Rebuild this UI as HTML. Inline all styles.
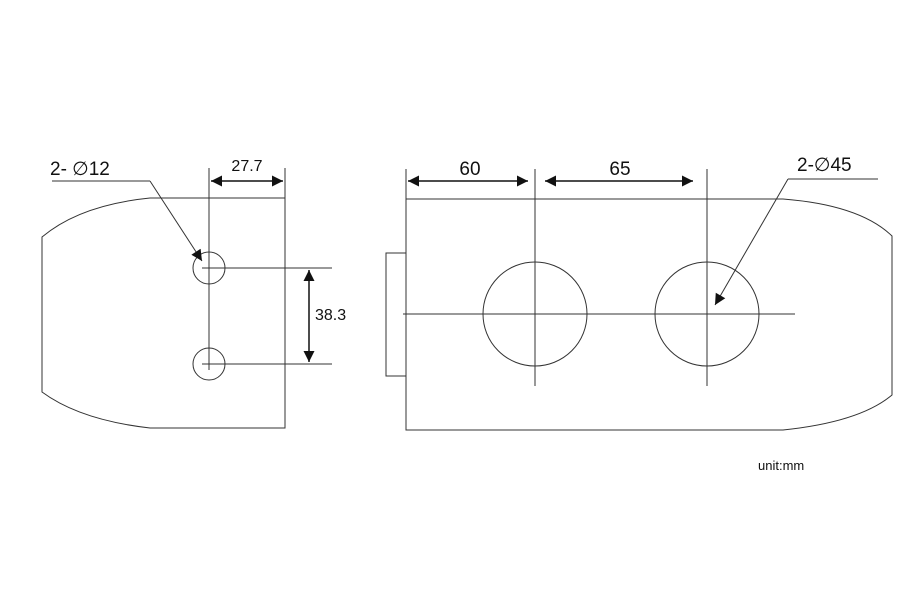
<!DOCTYPE html>
<html><head><style>html,body{margin:0;padding:0;background:#fff;}svg{display:block}</style></head>
<body>
<svg width="923" height="598" viewBox="0 0 923 598" xmlns="http://www.w3.org/2000/svg">
<defs>
<marker id="a" viewBox="0 0 10 10" refX="10" refY="5" markerWidth="14" markerHeight="11" orient="auto-start-reverse" markerUnits="userSpaceOnUse"><path d="M0,0L10,5L0,10z" fill="#111"/></marker>
</defs>
<g fill="none" stroke="#333" stroke-width="1">
<path d="M150,198 L285,198 L285,428 L150,428 Q80,420 42,392 L42,237 Q80,205 150,198 Z"/>
<line x1="209" y1="168" x2="209" y2="370"/>
<line x1="285" y1="168" x2="285" y2="198"/>
<circle cx="209" cy="268" r="16"/>
<circle cx="209" cy="364" r="16"/>
<line x1="202" y1="268" x2="332" y2="268"/>
<line x1="202" y1="364" x2="332" y2="364"/>
<line x1="52" y1="181" x2="150" y2="181"/>
<line x1="150" y1="181" x2="202" y2="261" marker-end="url(#a)"/>
<line x1="211" y1="181" x2="283" y2="181" stroke="#111" stroke-width="1.5" marker-start="url(#a)" marker-end="url(#a)"/>
<line x1="309" y1="270" x2="309" y2="362" stroke="#111" stroke-width="1.5" marker-start="url(#a)" marker-end="url(#a)"/>
<path d="M406,199 L783,199 Q860,205 892,236 L892,395 Q860,422 783,430 L406,430 Z"/>
<rect x="386" y="253" width="20" height="123"/>
<line x1="403" y1="314" x2="795" y2="314"/>
<circle cx="535" cy="314" r="52"/>
<circle cx="707" cy="314" r="52"/>
<line x1="535" y1="169" x2="535" y2="386"/>
<line x1="707" y1="169" x2="707" y2="386"/>
<line x1="406" y1="169" x2="406" y2="199"/>
<line x1="408" y1="181" x2="528" y2="181" stroke="#111" stroke-width="1.5" marker-start="url(#a)" marker-end="url(#a)"/>
<line x1="545" y1="181" x2="693" y2="181" stroke="#111" stroke-width="1.5" marker-start="url(#a)" marker-end="url(#a)"/>
<line x1="788" y1="179" x2="878" y2="179"/>
<line x1="788" y1="179" x2="715" y2="305" marker-end="url(#a)"/>
</g>
<g font-family="Liberation Sans, sans-serif" fill="#111">
<text x="50" y="175" font-size="19">2- ∅12</text>
<text x="247" y="171" font-size="16" text-anchor="middle">27.7</text>
<text x="315" y="320" font-size="16">38.3</text>
<text x="470" y="175" font-size="19" text-anchor="middle">60</text>
<text x="620" y="175" font-size="19" text-anchor="middle">65</text>
<text x="797" y="171" font-size="19">2-∅45</text>
<text x="758" y="470" font-size="13">unit:mm</text>
</g>
</svg>
</body></html>
